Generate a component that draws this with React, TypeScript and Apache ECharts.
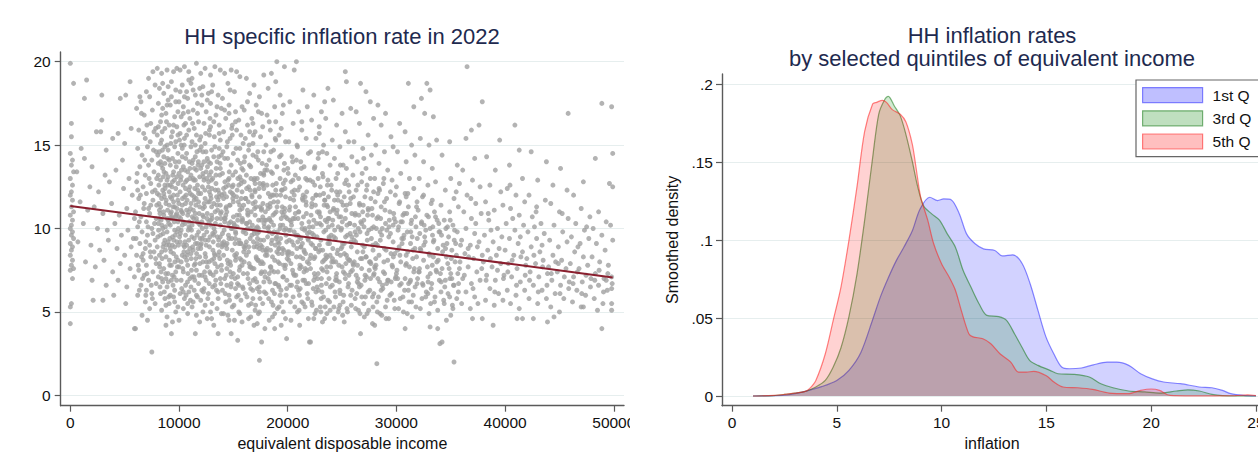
import React, { useEffect, useRef } from "react";
import * as echarts from "echarts";

const FONT = '"Liberation Sans", Arial, Helvetica, sans-serif';
const TITLE_COLOR = "#1e2a4f";

const leftTitle = "HH specific inflation rate in 2022";
const rightTitle1 = "HH inflation rates";
const rightTitle2 = "by selected quintiles of equivalent income";
const incomeAxisName = "equivalent disposable income";
const inflationAxisName = "inflation";
const densityAxisName = "Smoothed density";

const incomeTicks = [0, 10000, 20000, 30000, 40000, 50000];
const rateTicks = [0, 5, 10, 15, 20];
const inflationTicks = [0, 5, 10, 15, 20, 25];
const densityTicks = [0, 0.05, 0.1, 0.15, 0.2];

// fitted line (income, rate) at the data range ends
const fitLine: [number, number][] = [[0, 11.35], [49900, 7.07]];

// households: [income in thousands, inflation rate] (outer spread)
const households: [number, number][] = [
  [0.0,19.9],[0.3,18.7],[0.1,16.3],[0.1,15.5],[0.0,14.5],[0.2,14.1],[0.1,13.8],[0.3,13.4],[0.0,13.0],[0.2,12.6],[0.1,12.2],[0.0,12.0],[0.2,11.7],[0.1,11.3],[0.3,11.0],[0.0,10.8],[0.2,10.5],[0.1,10.2],[0.0,10.0],[0.2,9.8],[0.1,9.6],[0.3,9.4],[0.0,9.1],[0.2,8.9],[0.1,8.7],[0.0,8.4],[0.2,8.1],[0.1,7.8],[0.3,7.6],[0.0,7.5],[0.2,7.0],[0.1,5.5],[0.0,5.3],[0.0,4.3],
  [1.5,18.9],[1.3,17.8],[2.9,18.0],[5.5,18.8],[4.6,17.8],[5.1,18.0],[2.9,16.5],[2.4,15.8],[2.8,15.8],[1.0,14.8],[1.3,14.2],[3.3,14.7],[3.9,15.4],[4.4,15.7],[5.0,15.1],[5.6,16.0],[3.2,13.2],[0.6,13.4],[2.0,13.7],[4.2,13.5],[4.8,14.1],[5.4,13.0],[1.8,12.5],[2.6,12.2],[3.6,12.8],[4.9,12.4],[5.7,12.0],[0.9,11.6],[1.6,11.1],[2.2,11.3],[3.0,10.9],[3.8,11.5],[4.5,10.8],[5.2,11.2],[5.9,10.6],[1.2,10.3],[2.5,10.0],[3.4,9.9],[4.1,10.3],[4.7,9.6],[5.3,9.9],[5.8,9.4],[0.7,9.2],[1.9,9.0],[2.7,8.7],[3.5,9.3],[4.3,8.8],[5.0,8.4],[5.6,8.9],[1.4,8.0],[2.3,7.7],[3.1,8.1],[3.9,7.4],[4.6,7.9],[5.5,7.6],[2.0,6.9],[3.3,6.6],[4.4,6.9],[5.2,6.5],[5.9,7.1],[2.1,5.7],[3.0,5.7],[4.0,6.0],[5.1,5.5],[5.9,4.0],
  [6.1,17.2],[6.5,17.6],[7.0,18.2],[7.3,17.9],[7.6,19.4],[7.8,18.6],[6.8,16.8],[7.4,16.3],[6.3,15.9],[6.9,15.4],[7.7,15.8],[6.2,14.8],[6.6,14.4],[7.1,14.9],[7.5,14.1],[7.9,14.6],[6.4,13.7],[6.9,13.2],[7.2,13.8],[7.7,13.4],[6.1,12.8],[6.7,12.5],[7.0,12.1],[7.4,12.7],[7.8,12.3],[6.3,11.8],[6.8,11.5],[7.2,11.2],[7.6,11.7],[6.0,11.0],[6.5,10.7],[7.0,10.4],[7.3,10.9],[7.9,10.6],[6.2,10.1],[6.6,9.8],[7.1,9.6],[7.5,10.0],[7.8,9.3],[6.4,9.1],[6.9,8.8],[7.3,9.0],[7.7,8.6],[6.1,8.4],[6.7,8.1],[7.0,7.8],[7.4,8.3],[7.9,7.9],[6.3,7.5],[6.8,7.2],[7.2,6.9],[7.6,7.4],[6.5,6.6],[7.0,6.3],[7.5,6.1],[7.9,6.7],[6.2,6.0],[6.9,5.6],[7.3,5.2],[7.8,5.5],[6.6,4.8],[7.1,4.5],[7.5,2.6],[6.0,4.0],[6.4,17.9],[7.2,19.0],[6.7,8.5],[7.4,11.4],[6.2,12.3],[7.6,9.7],
  [8.0,19.6],[8.4,19.3],[8.9,19.5],[9.5,19.4],[9.8,19.6],[8.2,18.4],[8.6,18.1],[9.0,18.5],[9.3,17.9],[9.7,18.3],[8.1,17.5],[8.5,17.2],[8.8,16.9],[9.2,17.4],[9.6,16.7],[9.9,17.0],[8.3,16.4],[8.7,16.0],[9.1,16.2],[9.4,15.8],[9.8,16.1],[8.0,15.6],[8.4,15.3],[8.9,15.0],[9.3,15.5],[9.6,14.9],[8.2,14.6],[8.6,14.3],[9.0,14.7],[9.4,14.2],[9.9,14.5],[8.1,13.9],[8.5,13.6],[8.8,13.3],[9.2,13.8],[9.5,13.4],[9.8,13.1],[8.3,12.9],[8.7,12.6],[9.1,12.2],[9.4,12.8],[9.7,12.4],[8.0,12.1],[8.4,11.8],[8.8,11.5],[9.2,11.9],[9.6,11.3],[9.9,11.7],[8.2,11.1],[8.6,10.8],[9.0,10.5],[9.3,11.0],[9.7,10.7],[8.1,10.3],[8.5,10.0],[8.9,9.8],[9.2,10.2],[9.6,9.9],[9.9,10.4],[8.3,9.6],[8.7,9.3],[9.1,9.0],[9.4,9.5],[9.8,9.2],[8.0,8.9],[8.4,8.6],[8.8,8.3],[9.2,8.8],[9.5,8.5],[9.9,8.1],[8.2,7.9],[8.6,7.6],[9.0,7.3],[9.3,7.8],[9.7,7.4],[8.1,7.1],[8.5,6.8],[8.9,6.5],[9.3,6.9],[9.6,6.3],[8.3,6.1],[8.7,5.8],[9.1,5.5],[9.5,5.9],[9.9,5.3],[8.4,5.1],[8.9,4.7],[9.4,4.4],[9.3,3.7],[8.8,4.2],[9.7,5.0],[8.5,12.3],[9.0,13.1],[8.7,14.9],[9.5,12.0],[8.2,10.6],[9.1,11.4],[8.6,9.1],[9.8,10.9],[8.9,12.9],[9.4,10.6],[8.1,13.2],[9.6,8.9],[8.8,7.0],[9.2,6.0],[8.4,16.8],[9.7,15.2],[9.0,17.7],[8.3,14.0],[9.5,11.6],
  [10.1,19.5],[10.5,19.7],[10.9,19.4],[11.6,19.9],[11.2,19.0],[10.3,18.6],[10.7,18.2],[11.1,18.7],[11.5,18.0],[11.9,18.4],[10.0,17.6],[10.4,17.3],[10.8,17.8],[11.3,17.1],[11.7,17.5],[10.2,16.7],[10.6,16.3],[11.0,16.6],[11.4,16.0],[11.8,16.4],[10.1,15.7],[10.5,15.4],[10.9,15.9],[11.2,15.2],[11.6,15.6],[10.3,14.8],[10.7,14.5],[11.1,14.9],[11.5,14.3],[11.9,14.7],[10.0,14.0],[10.4,13.7],[10.8,13.4],[11.2,13.9],[11.6,13.5],[10.2,13.1],[10.6,12.8],[11.0,12.5],[11.3,13.0],[11.7,12.6],[10.1,12.2],[10.5,11.9],[10.9,12.3],[11.4,11.7],[11.8,12.1],[10.3,11.4],[10.7,11.1],[11.1,11.5],[11.5,10.9],[11.9,11.3],[10.0,10.7],[10.4,10.4],[10.8,10.8],[11.2,10.2],[11.6,10.6],[10.2,9.9],[10.6,9.6],[11.0,10.0],[11.4,9.4],[11.8,9.8],[10.1,9.2],[10.5,8.9],[10.9,9.3],[11.3,8.7],[11.7,9.1],[10.3,8.4],[10.7,8.1],[11.1,8.5],[11.5,7.9],[11.9,8.3],[10.0,7.7],[10.4,7.4],[10.8,7.8],[11.2,7.1],[11.6,7.5],[10.2,6.9],[10.6,6.6],[11.0,7.0],[11.4,6.3],[11.8,6.7],[10.1,6.1],[10.5,5.8],[10.9,6.2],[11.3,5.6],[11.7,5.9],[10.4,5.2],[10.8,4.9],[11.2,5.3],[11.6,4.8],[10.0,4.5],[11.5,3.7],[11.9,4.4],[10.6,12.4],[11.3,14.1],[10.9,11.0],[11.7,10.4],[10.2,15.0],[11.0,13.6],[10.7,9.0],[11.5,12.9],[10.4,16.9],[11.9,15.3],[10.8,8.6],[11.1,6.5],[10.3,10.2],[11.4,11.9],
  [12.0,19.3],[12.4,19.6],[12.9,19.2],[13.3,19.7],[13.8,19.5],[12.2,18.5],[12.7,18.1],[13.1,18.6],[13.6,18.0],[12.1,17.4],[12.5,17.0],[12.9,17.5],[13.4,16.8],[13.9,17.2],[12.3,16.3],[12.8,15.9],[13.2,16.4],[13.7,15.7],[12.0,15.5],[12.4,15.1],[12.8,15.6],[13.3,14.9],[13.8,15.3],[12.2,14.6],[12.6,14.2],[13.0,14.7],[13.5,14.0],[13.9,14.4],[12.1,13.8],[12.5,13.4],[12.9,13.9],[13.4,13.2],[13.8,13.6],[12.3,12.9],[12.7,12.5],[13.1,13.0],[13.6,12.3],[12.0,12.1],[12.4,11.8],[12.8,12.2],[13.2,11.5],[13.7,11.9],[12.2,11.2],[12.6,10.9],[13.0,11.3],[13.5,10.6],[13.9,11.0],[12.1,10.4],[12.5,10.1],[12.9,10.5],[13.3,9.8],[13.8,10.2],[12.3,9.6],[12.7,9.3],[13.1,9.7],[13.6,9.0],[12.0,8.8],[12.4,8.5],[12.8,8.9],[13.2,8.2],[13.7,8.6],[12.2,8.0],[12.6,7.7],[13.0,8.1],[13.4,7.4],[13.9,7.8],[12.1,7.2],[12.5,6.9],[12.9,7.3],[13.3,6.6],[13.8,7.0],[12.3,6.4],[12.7,6.1],[13.1,6.5],[13.6,5.8],[12.0,5.7],[12.4,5.4],[12.9,5.0],[13.5,5.2],[13.9,4.9],[12.6,4.6],[13.2,4.2],[13.6,3.7],[12.8,11.6],[13.4,12.7],[12.2,13.3],[13.0,10.8],[12.5,9.0],[13.7,14.8],[12.9,16.1],[13.3,8.4],[12.1,6.3],[13.8,9.5],[12.7,14.0],[13.5,11.4],
  [14.2,19.3],[14.8,19.5],[15.3,19.4],[15.6,19.1],[14.5,18.7],[15.1,18.2],[14.0,17.8],[14.6,17.4],[15.2,17.0],[15.8,17.3],[14.3,16.6],[14.9,16.2],[15.5,16.5],[14.1,15.8],[14.7,15.4],[15.3,15.9],[15.9,15.1],[14.4,14.9],[15.0,14.5],[15.6,14.8],[14.2,14.2],[14.8,13.8],[15.4,14.1],[15.9,13.5],[14.0,13.3],[14.6,13.0],[15.2,13.4],[15.7,12.7],[14.3,12.5],[14.9,12.1],[15.5,12.6],[14.1,11.8],[14.7,11.4],[15.3,11.9],[15.8,11.2],[14.4,11.0],[15.0,10.7],[15.6,11.1],[14.2,10.4],[14.8,10.0],[15.4,10.5],[15.9,9.8],[14.0,9.7],[14.6,9.4],[15.2,9.8],[15.7,9.1],[14.3,9.0],[14.9,8.7],[15.5,9.1],[14.1,8.4],[14.7,8.0],[15.3,8.5],[15.8,7.8],[14.4,7.6],[15.0,7.3],[15.6,7.7],[14.2,7.0],[14.8,6.7],[15.4,7.1],[15.9,6.4],[14.0,6.3],[14.6,6.0],[15.2,6.4],[15.7,5.7],[14.3,5.6],[14.9,5.3],[15.5,5.0],[14.5,4.8],[15.1,4.5],[14.1,4.9],[15.4,3.3],[14.8,3.7],[15.8,4.4],[14.5,12.9],[15.1,10.2],[14.9,15.6],[15.6,13.1],[14.3,10.8],[15.2,8.1],[14.7,7.4],[15.8,10.4],[14.1,12.4],[15.5,6.6],[14.6,16.9],[15.0,11.6],[14.4,8.8],
  [16.2,19.0],[16.9,18.6],[17.4,17.9],[17.8,19.2],[16.5,18.1],[17.1,17.4],[16.0,17.1],[16.7,16.6],[17.6,16.9],[16.3,16.2],[17.0,15.8],[17.7,16.1],[16.1,15.4],[16.8,15.1],[17.5,15.5],[16.4,14.7],[17.1,14.3],[17.8,14.6],[16.0,14.0],[16.6,13.7],[17.3,14.1],[17.9,13.5],[16.2,13.2],[16.9,12.9],[17.5,13.3],[16.4,12.5],[17.0,12.2],[17.7,12.6],[16.1,11.8],[16.8,11.5],[17.4,11.9],[16.3,11.1],[17.0,10.8],[17.6,11.2],[16.5,10.4],[17.2,10.1],[17.9,10.5],[16.0,9.9],[16.7,9.6],[17.3,10.0],[17.8,9.3],[16.2,9.2],[16.9,8.9],[17.5,9.3],[16.4,8.6],[17.1,8.3],[17.7,8.7],[16.0,8.0],[16.6,7.7],[17.3,8.1],[17.9,7.4],[16.3,7.3],[17.0,7.0],[17.6,7.4],[16.5,6.7],[17.2,6.4],[17.8,6.8],[16.1,6.1],[16.8,5.8],[17.4,6.2],[16.4,5.4],[17.0,5.1],[17.7,5.5],[16.6,4.7],[17.3,4.9],[17.4,2.1],[17.6,3.2],[16.9,4.2],[17.9,4.0],[16.7,12.0],[17.2,9.7],[16.3,10.0],[17.5,7.9],[16.8,14.4],[17.1,11.3],[16.2,8.4],[17.8,12.4],[16.5,15.8],[17.4,8.8],[16.9,7.6],[17.7,10.7],[16.0,12.8],[17.2,13.0],
  [18.5,19.3],[19.0,20.0],[19.7,19.7],[18.2,18.4],[19.3,18.0],[18.8,17.3],[19.6,17.4],[18.1,16.8],[18.9,16.4],[19.5,16.9],[18.4,15.9],[19.2,15.6],[19.8,15.2],[18.0,15.0],[18.7,14.7],[19.4,14.4],[18.3,14.1],[19.0,13.7],[19.7,13.9],[18.6,13.3],[19.3,13.0],[18.1,12.6],[18.9,12.3],[19.6,12.7],[18.4,11.9],[19.1,11.6],[19.8,11.9],[18.2,11.2],[18.8,10.9],[19.5,11.3],[18.0,10.5],[18.7,10.2],[19.4,10.6],[18.3,9.8],[19.0,9.5],[19.7,9.9],[18.5,9.1],[19.2,8.8],[19.9,9.2],[18.1,8.4],[18.8,8.1],[19.5,8.5],[18.4,7.7],[19.1,7.4],[19.8,7.8],[18.2,7.0],[18.9,6.7],[19.6,7.1],[18.6,6.3],[19.3,6.0],[18.0,6.1],[19.9,6.4],[18.5,5.6],[19.2,5.3],[18.8,4.9],[19.6,5.0],[18.8,4.0],[19.9,3.4],[18.3,4.5],[19.4,4.2],[18.7,12.0],[19.3,10.0],[18.1,13.5],[19.0,8.6],[18.5,10.4],[19.7,11.0],[18.3,7.3],[19.5,12.3],[18.9,15.3],[19.2,6.5],[18.6,8.3],[19.8,10.7],[18.4,11.5],[19.1,9.2],
  [20.6,19.5],[20.8,20.0],[21.4,18.3],[20.2,17.6],[21.0,17.0],[21.8,17.3],[20.5,16.3],[21.3,15.9],[20.1,15.2],[20.9,14.9],[21.7,15.4],[20.4,14.3],[21.2,14.0],[21.9,14.5],[20.0,13.6],[20.7,13.2],[21.5,13.7],[20.3,12.8],[21.1,12.5],[21.8,12.9],[20.6,12.0],[21.4,11.7],[20.2,11.3],[21.0,11.0],[21.7,11.4],[20.5,10.6],[21.3,10.3],[20.1,9.9],[20.9,9.6],[21.6,10.0],[20.4,9.2],[21.2,8.9],[21.9,9.3],[20.0,8.6],[20.8,8.3],[21.5,8.7],[20.3,7.9],[21.1,7.6],[21.8,8.0],[20.6,7.2],[21.4,6.9],[20.2,6.6],[21.0,6.3],[21.7,6.7],[20.5,5.9],[21.3,5.6],[20.9,5.0],[21.6,5.3],[20.3,4.5],[21.1,4.2],[22.0,3.2],[21.9,4.6],[20.7,10.9],[21.2,9.4],[20.4,12.2],[21.5,7.4],[20.8,14.1],[21.6,11.9],[20.1,8.1],[21.0,13.0],[20.6,9.8],[21.8,6.1],[20.2,10.5],[21.4,8.2],[20.9,6.8],[21.3,16.4],
  [22.4,18.0],[23.1,17.0],[23.7,18.4],[22.2,16.5],[22.9,16.1],[23.5,16.6],[22.6,15.4],[23.3,15.0],[22.1,14.6],[22.8,14.2],[23.6,14.5],[22.5,13.7],[23.2,13.3],[23.9,13.8],[22.3,12.8],[23.0,12.5],[23.7,12.9],[22.6,12.0],[23.4,11.7],[22.2,11.3],[22.9,11.0],[23.6,11.4],[22.4,10.5],[23.1,10.2],[23.8,10.6],[22.0,9.8],[22.7,9.5],[23.5,9.9],[22.3,9.0],[23.0,8.7],[23.7,9.1],[22.5,8.3],[23.2,8.0],[23.9,8.4],[22.1,7.6],[22.8,7.3],[23.6,7.7],[22.4,6.9],[23.1,6.6],[23.8,7.0],[22.6,6.2],[23.3,5.9],[22.2,5.6],[23.0,5.3],[23.7,5.7],[22.5,4.9],[23.4,4.6],[22.1,3.2],[23.9,5.1],[22.9,10.9],[23.3,12.1],[22.6,8.8],[23.8,9.5],[22.3,11.8],[23.5,8.2],[22.8,13.0],[23.1,7.0],[22.0,10.1],[23.6,10.4],[22.7,6.5],[23.9,11.0],[22.4,9.6],[23.2,14.6],[22.9,15.7],[23.4,17.6],
  [25.3,19.4],[25.4,18.8],[24.2,17.7],[25.0,16.9],[25.8,17.2],[24.5,16.2],[25.3,15.8],[24.1,15.3],[24.8,14.9],[25.6,15.2],[24.3,14.2],[25.1,13.8],[25.9,14.3],[24.6,13.3],[25.4,12.9],[24.0,12.6],[24.8,12.2],[25.6,12.6],[24.3,11.7],[25.1,11.4],[25.8,11.8],[24.5,10.9],[25.3,10.6],[24.1,10.2],[24.9,9.9],[25.7,10.3],[24.4,9.4],[25.2,9.1],[25.9,9.5],[24.6,8.7],[25.4,8.4],[24.2,8.0],[25.0,7.7],[25.7,8.1],[24.5,7.3],[25.3,7.0],[24.1,6.6],[24.8,6.3],[25.6,6.7],[24.4,5.9],[25.1,5.6],[25.8,6.0],[24.7,5.2],[25.5,5.0],[24.3,4.6],[25.2,4.4],[24.9,10.7],[25.5,9.6],[24.2,11.1],[25.8,7.4],[24.6,12.0],[25.0,8.9],[24.0,9.6],[25.4,13.6],[24.7,7.8],[25.9,10.9],[24.4,6.9],[25.2,11.9],[24.8,5.4],
  [26.7,18.7],[27.2,18.2],[27.6,17.6],[26.3,17.0],[27.9,16.6],[26.6,16.3],[27.4,15.6],[26.1,15.2],[26.9,14.8],[27.7,14.4],[26.4,14.0],[27.2,13.6],[26.0,13.2],[26.8,12.8],[27.6,13.0],[26.3,12.3],[27.1,11.9],[27.9,12.2],[26.6,11.5],[27.4,11.2],[26.2,10.8],[27.0,10.5],[27.8,10.8],[26.5,10.0],[27.3,9.7],[26.1,9.3],[26.9,9.0],[27.7,9.4],[26.4,8.6],[27.2,8.3],[26.0,7.9],[26.8,7.6],[27.6,8.0],[26.3,7.2],[27.1,6.9],[27.9,7.2],[26.6,6.5],[27.4,6.2],[26.2,5.8],[27.0,5.5],[27.8,5.9],[26.5,5.1],[27.3,4.9],[26.7,3.7],[27.8,4.3],[26.9,11.0],[27.5,7.5],[26.2,9.8],[27.3,12.6],[26.7,8.2],[27.9,10.1],[26.4,6.8],[27.0,14.2],[26.8,10.3],
  [28.2,1.9],[28.3,17.4],[29.0,16.9],[28.6,16.2],[29.5,15.5],[28.1,15.0],[28.9,14.6],[29.7,14.9],[28.4,13.9],[29.2,13.5],[28.0,13.0],[28.8,12.7],[29.6,12.9],[28.3,12.1],[29.1,11.8],[29.9,12.0],[28.6,11.3],[29.4,11.0],[28.2,10.6],[29.0,10.3],[29.8,10.6],[28.5,9.8],[29.3,9.5],[28.1,9.1],[28.9,8.8],[29.7,9.2],[28.4,8.4],[29.2,8.1],[28.0,7.7],[28.8,7.4],[29.6,7.8],[28.3,7.0],[29.1,6.7],[29.9,7.0],[28.6,6.3],[29.4,6.0],[28.2,5.6],[29.0,5.3],[29.8,5.7],[28.5,4.9],[29.3,4.6],[28.0,4.2],[28.7,10.0],[29.5,8.5],[28.9,11.6],[29.2,6.9],[28.4,12.4],[29.7,10.2],[28.1,8.2],
  [31.1,18.7],[30.3,16.3],[31.6,17.3],[30.8,15.8],[31.4,15.0],[30.1,14.6],[30.9,14.0],[31.7,14.4],[30.4,13.3],[31.2,13.0],[30.0,12.5],[30.8,12.1],[31.6,12.4],[30.3,11.6],[31.1,11.3],[31.9,11.6],[30.6,10.8],[31.4,10.5],[30.2,10.1],[31.0,9.8],[31.8,10.1],[30.5,9.4],[31.3,9.1],[30.1,8.7],[30.9,8.4],[31.7,8.8],[30.4,8.0],[31.2,7.7],[30.0,7.3],[30.8,7.0],[31.6,7.4],[30.3,6.6],[31.1,6.3],[31.9,6.7],[30.6,5.9],[31.4,5.6],[30.2,5.2],[31.0,4.9],[31.8,5.3],[30.8,4.0],[30.7,9.6],[31.5,8.2],[30.4,10.4],[31.3,6.9],[30.9,11.9],
  [32.8,18.7],[33.1,18.3],[32.3,17.8],[32.6,16.9],[33.4,16.7],[32.2,15.4],[33.0,15.0],[33.7,15.3],[32.5,14.0],[33.3,13.6],[32.1,13.0],[32.9,12.6],[33.6,12.8],[32.4,11.9],[33.2,11.5],[32.0,11.1],[32.8,10.8],[33.5,11.0],[32.3,10.3],[33.1,10.0],[33.9,10.3],[32.6,9.5],[33.4,9.2],[32.2,8.8],[33.0,8.5],[33.8,8.8],[32.5,8.1],[33.3,7.8],[32.1,7.4],[32.9,7.1],[33.7,7.4],[32.4,6.7],[33.2,6.4],[32.7,5.9],[33.5,5.6],[32.2,5.2],[33.0,4.9],[33.8,5.1],[33.1,4.1],[33.8,4.0],[32.7,9.9],[33.4,8.3],[32.9,6.1],[33.6,10.7],
  [34.9,15.2],[35.6,13.8],[34.2,14.4],[35.0,13.0],[35.8,12.7],[34.5,12.3],[35.3,11.8],[34.1,11.4],[34.9,11.0],[35.7,11.3],[34.4,10.5],[35.2,10.2],[34.0,9.8],[34.8,9.5],[35.6,9.8],[34.3,9.0],[35.1,8.7],[35.9,9.0],[34.6,8.3],[35.4,8.0],[34.2,7.6],[35.0,7.3],[35.8,7.6],[34.5,6.9],[35.3,6.6],[34.1,6.2],[34.9,5.9],[35.7,6.2],[34.4,5.5],[35.2,5.2],[35.0,4.8],[34.2,3.2],[34.0,3.1],[35.3,2.0],[34.6,4.5],[35.5,12.2],[34.7,10.1],[35.1,7.0],
  [36.5,19.7],[37.9,17.6],[37.6,16.2],[36.9,15.9],[36.4,15.4],[37.2,14.2],[36.1,13.5],[37.0,12.9],[37.7,12.5],[36.5,12.0],[37.3,11.5],[36.2,11.0],[36.9,10.6],[37.8,10.9],[36.4,10.0],[37.2,9.7],[36.0,9.3],[36.8,9.0],[37.6,9.2],[36.3,8.5],[37.1,8.2],[37.9,8.4],[36.6,7.7],[37.4,7.4],[36.1,7.0],[36.9,6.7],[37.7,6.9],[36.4,6.2],[37.2,5.9],[36.0,5.5],[36.8,5.2],[37.5,5.5],[37.0,4.6],[37.9,4.6],[36.6,8.8],[37.3,10.3],
  [39.5,15.3],[38.3,14.3],[39.1,13.5],[38.6,12.6],[39.6,12.2],[38.2,11.6],[39.0,11.1],[39.8,11.4],[38.5,10.5],[39.3,10.0],[38.1,9.6],[38.9,9.2],[39.7,9.5],[38.4,8.7],[39.2,8.4],[38.0,8.0],[38.8,7.7],[39.6,7.9],[38.3,7.2],[39.1,6.9],[39.9,7.2],[38.6,6.4],[39.4,6.1],[38.2,5.7],[39.0,5.4],[39.8,5.7],[38.9,4.2],[38.7,9.9],[39.3,7.5],
  [40.9,16.2],[41.3,14.7],[40.4,13.8],[41.6,13.0],[40.2,12.4],[41.0,12.0],[41.8,11.6],[40.5,11.2],[41.3,10.8],[40.1,10.3],[40.9,9.9],[41.7,10.2],[40.4,9.4],[41.2,9.1],[40.0,8.7],[40.8,8.4],[41.6,8.6],[40.3,7.9],[41.1,7.6],[41.9,7.8],[40.6,7.1],[41.4,6.8],[40.2,6.3],[41.0,6.0],[41.8,6.3],[40.5,5.5],[41.3,5.2],[41.1,4.6],[41.6,4.6],[40.7,10.6],[41.4,9.5],
  [43.8,14.0],[42.4,14.6],[43.0,12.9],[42.2,12.0],[42.9,11.3],[43.7,11.7],[42.5,10.7],[43.3,10.3],[42.1,9.8],[42.9,9.4],[43.6,9.7],[42.4,8.9],[43.2,8.6],[42.0,8.2],[42.8,7.9],[43.5,8.1],[42.3,7.4],[43.1,7.1],[43.9,7.3],[42.6,6.6],[43.4,6.3],[42.2,5.8],[43.0,5.5],[43.8,5.8],[42.6,4.6],[43.9,4.4],[42.7,10.1],[43.4,9.0],
  [45.1,13.6],[44.4,12.6],[45.7,12.3],[44.2,11.5],[45.0,11.0],[45.8,10.6],[44.5,10.2],[45.3,9.8],[44.1,9.3],[44.9,8.9],[45.7,9.2],[44.4,8.4],[45.2,8.1],[44.0,7.7],[44.8,7.4],[45.6,7.6],[44.3,6.9],[45.1,6.6],[45.9,6.8],[44.6,6.1],[45.4,5.8],[44.2,5.3],[45.0,5.0],[44.5,4.7],[45.8,16.9],[44.9,7.9],
  [47.2,12.8],[46.3,12.0],[47.0,11.2],[47.8,10.7],[46.5,10.3],[47.3,9.9],[46.1,9.5],[46.9,9.1],[47.7,9.4],[46.4,8.6],[47.2,8.3],[46.0,7.9],[46.8,7.6],[47.6,7.8],[46.3,7.1],[47.1,6.8],[47.9,7.0],[46.6,6.3],[47.4,6.0],[46.2,5.6],[47.0,5.3],[47.2,5.3],[46.7,8.9],[47.5,10.1],
  [48.9,17.5],[49.8,17.3],[49.9,14.5],[48.3,14.2],[49.6,12.7],[49.9,12.5],[48.6,11.0],[49.3,10.4],[48.1,10.0],[48.9,9.6],[49.7,10.2],[48.4,9.1],[49.2,8.7],[49.9,9.3],[48.0,8.3],[48.7,8.0],[49.5,7.8],[48.3,7.3],[49.1,7.0],[49.8,7.1],[48.6,6.6],[49.4,6.3],[49.8,6.4],[48.2,5.8],[49.0,5.5],[49.8,5.5],[48.5,5.1],[49.8,5.1],[48.9,4.0],[49.3,6.9],
];

// households in the dense core of the cloud: [income in thousands, inflation rate]
const householdsCore: [number, number][] = [
  [6.05,9.4],[6.35,10.4],[6.55,8.3],[6.75,11.2],[6.95,9.2],[7.15,10.1],[7.35,8.6],[7.55,12.2],[7.75,10.3],[7.95,11.4],[6.15,13.3],[6.45,12.0],[6.85,14.1],[7.25,13.0],[7.65,14.7],[6.25,7.8],[6.65,7.0],[7.05,7.3],[7.45,6.6],[7.85,8.2],[6.35,6.3],[6.95,6.0],[7.55,5.8],[7.05,16.2],[7.55,17.1],[6.75,15.7],[7.85,16.0],[7.35,15.2],[6.55,16.9],[7.95,13.0],
  [8.05,9.5],[8.25,10.9],[8.45,8.2],[8.65,11.9],[8.85,9.0],[9.05,10.3],[9.25,8.6],[9.45,11.3],[9.65,9.6],[9.85,12.0],[8.15,12.6],[8.35,7.4],[8.55,13.1],[8.75,8.7],[8.95,14.2],[9.15,7.8],[9.35,12.5],[9.55,7.1],[9.75,13.7],[9.95,9.0],[8.05,14.4],[8.25,6.5],[8.45,15.8],[8.65,6.2],[8.85,16.4],[9.05,5.9],[9.25,15.1],[9.45,6.6],[9.65,14.0],[9.85,7.7],[8.15,11.5],[8.35,10.5],[8.55,9.7],[8.75,10.1],[8.95,11.1],[9.15,9.4],[9.35,10.7],[9.55,10.4],[9.75,8.3],[9.95,10.0],[8.1,16.1],[8.5,18.7],[8.9,17.4],[9.3,18.8],[9.7,17.6],[8.3,15.1],[8.7,13.9],[9.1,14.1],[9.5,16.2],[9.9,15.6],[8.2,8.4],[8.6,12.1],[9.0,9.2],[9.4,7.2],[9.8,11.2],[8.4,7.0],[8.8,5.4],[9.2,12.6],[9.6,5.6],[10.0,13.3],
  [10.05,9.5],[10.25,11.0],[10.45,8.6],[10.65,12.0],[10.85,9.9],[11.05,11.2],[11.25,8.9],[11.45,12.4],[11.65,9.6],[11.85,10.9],[10.15,12.9],[10.35,7.6],[10.55,13.5],[10.75,8.4],[10.95,14.0],[11.15,7.5],[11.35,12.9],[11.55,8.2],[11.75,13.8],[11.95,9.4],[10.05,15.3],[10.25,6.4],[10.45,16.2],[10.65,6.0],[10.85,17.0],[11.05,5.7],[11.25,16.3],[11.45,6.9],[11.65,14.6],[11.85,7.2],[10.15,10.6],[10.35,10.9],[10.55,9.2],[10.75,11.7],[10.95,10.4],[11.15,9.9],[11.35,10.6],[11.55,11.4],[11.75,8.8],[11.95,10.2],[10.1,18.2],[10.5,17.9],[10.9,18.9],[11.3,18.3],[11.7,16.9],[10.3,14.3],[10.7,15.6],[11.1,13.2],[11.5,15.0],[11.9,13.1],[10.2,8.0],[10.6,11.5],[11.0,8.8],[11.4,7.8],[11.8,11.6],[10.4,6.2],[10.8,5.5],[11.2,12.0],[11.6,6.0],[12.0,13.6],
  [12.05,9.1],[12.25,10.7],[12.45,8.3],[12.65,11.6],[12.85,9.5],[13.05,10.6],[13.25,8.5],[13.45,11.9],[13.65,9.3],[13.85,10.6],[12.15,12.5],[12.35,7.4],[12.55,13.0],[12.75,8.0],[12.95,13.4],[13.15,7.2],[13.35,12.3],[13.55,7.7],[13.75,13.2],[13.95,8.9],[12.05,14.9],[12.25,6.2],[12.45,15.7],[12.65,5.8],[12.85,16.6],[13.05,5.5],[13.25,15.5],[13.45,6.3],[13.65,14.3],[13.85,6.7],[12.15,10.0],[12.35,11.3],[12.55,9.8],[12.75,10.4],[12.95,11.8],[13.15,9.2],[13.35,10.3],[13.55,11.1],[13.75,8.2],[13.95,12.0],[12.1,18.0],[12.6,17.7],[13.0,18.2],[13.5,17.3],[12.3,14.0],[12.8,13.2],[13.2,14.3],[13.7,16.2],[12.4,7.1],[12.9,12.0],[13.3,7.9],[13.8,11.4],[12.2,5.0],[13.0,4.6],[13.6,6.2],
  [14.05,9.0],[14.25,10.6],[14.45,8.1],[14.65,11.4],[14.85,9.4],[15.05,10.3],[15.25,8.3],[15.45,11.6],[15.65,9.1],[15.85,10.5],[14.15,12.1],[14.35,7.2],[14.55,12.6],[14.75,7.8],[14.95,13.2],[15.15,7.0],[15.35,12.3],[15.55,7.5],[15.75,12.9],[15.95,8.6],[14.05,14.6],[14.25,6.1],[14.45,15.2],[14.65,5.7],[14.85,16.0],[15.05,5.4],[15.25,14.8],[15.45,6.0],[15.65,13.9],[15.85,6.5],[14.15,9.9],[14.35,11.3],[14.55,9.6],[14.75,10.4],[14.95,11.8],[15.15,9.1],[15.35,10.1],[15.55,10.8],[15.75,8.1],[15.95,11.4],[14.2,17.1],[14.7,18.3],[15.2,16.4],[15.7,15.6],[14.4,6.6],[14.9,12.5],[15.3,5.9],[15.8,12.2],[14.6,4.5],[15.6,4.9],
  [16.05,8.8],[16.25,10.3],[16.45,7.9],[16.65,11.0],[16.85,9.2],[17.05,10.0],[17.25,8.1],[17.45,11.3],[17.65,8.9],[17.85,10.1],[16.15,11.8],[16.35,7.0],[16.55,12.3],[16.75,7.6],[16.95,13.0],[17.15,6.8],[17.35,12.4],[17.55,7.3],[17.75,12.7],[17.95,8.4],[16.05,14.3],[16.25,5.9],[16.45,15.0],[16.65,5.5],[16.85,15.6],[17.05,5.4],[17.25,14.6],[17.45,5.8],[17.65,13.9],[17.85,6.2],[16.15,9.7],[16.35,10.8],[16.55,9.4],[16.75,10.2],[16.95,11.2],[17.15,8.9],[17.35,9.8],[17.55,10.5],[17.75,7.9],[17.95,11.0],[16.3,17.6],[16.8,16.3],[17.3,17.0],[16.6,6.4],[17.0,12.7],[17.4,5.0],[17.8,13.2],[16.4,4.6],[17.2,4.3],[16.9,9.9],
  [18.05,8.6],[18.25,10.1],[18.45,7.7],[18.65,10.8],[18.85,9.0],[19.05,9.8],[19.25,7.9],[19.45,11.0],[19.65,8.7],[19.85,9.6],[18.15,11.4],[18.35,6.8],[18.55,12.0],[18.75,7.4],[18.95,12.7],[19.15,6.6],[19.35,12.0],[19.55,7.1],[19.75,12.4],[19.95,8.2],[18.05,13.8],[18.25,5.8],[18.45,14.6],[18.65,5.4],[18.85,15.4],[19.05,5.2],[19.25,14.3],[19.45,5.6],[19.65,13.5],[19.85,6.0],[18.15,9.5],[18.35,10.5],[18.55,9.3],[18.75,9.8],[18.95,11.0],[19.15,8.5],[19.35,9.4],[19.55,10.2],[19.75,7.6],[19.95,10.6],[18.3,16.4],[18.9,18.8],[19.4,16.0],[18.6,4.7],[19.8,4.6],
  [20.05,8.4],[20.25,9.9],[20.45,7.5],[20.65,10.6],[20.85,8.8],[21.05,9.5],[21.25,7.7],[21.45,10.7],[21.65,8.5],[21.85,9.4],[20.15,11.1],[20.35,6.6],[20.55,11.7],[20.75,7.2],[20.95,12.3],[21.15,6.4],[21.35,11.8],[21.55,6.9],[21.75,12.2],[21.95,7.9],[20.05,13.3],[20.25,5.6],[20.45,14.0],[20.65,5.3],[20.85,15.0],[21.05,5.1],[21.25,13.6],[21.45,5.5],[21.65,13.0],[21.85,5.8],[20.15,9.3],[20.35,10.2],[20.55,9.0],[20.75,9.6],[20.95,10.6],[21.15,8.3],[21.35,9.1],[21.55,9.9],[21.75,7.5],[21.95,10.4],
  [22.05,8.2],[22.25,9.7],[22.45,7.3],[22.65,10.3],[22.85,8.6],[23.05,9.3],[23.25,7.5],[23.45,10.5],[23.65,8.3],[23.85,9.1],[22.15,10.8],[22.35,6.4],[22.55,11.4],[22.75,7.0],[22.95,12.0],[23.15,6.2],[23.35,11.4],[23.55,6.7],[23.75,11.9],[23.95,7.7],[22.05,12.9],[22.25,5.4],[22.45,13.6],[22.65,5.1],[22.85,14.5],[23.05,5.0],[23.25,13.1],[23.45,5.3],[23.65,12.6],[23.85,5.6],[22.15,9.1],[22.55,8.8],[22.95,10.3],[23.35,8.1],[23.75,10.1],[22.4,4.6],[23.2,4.4],[23.6,4.9],
  [24.05,8.0],[24.25,9.5],[24.45,7.1],[24.65,10.1],[24.85,8.4],[25.05,9.1],[25.25,7.3],[25.45,10.2],[25.65,8.1],[25.85,8.9],[24.15,10.5],[24.35,6.2],[24.55,11.1],[24.75,6.8],[24.95,11.6],[25.15,6.0],[25.35,11.1],[25.55,6.5],[25.75,11.5],[25.95,7.5],[24.05,12.3],[24.25,5.3],[24.45,13.0],[24.65,5.0],[24.85,13.8],[25.05,4.8],[25.25,12.7],[25.45,5.2],[25.65,12.2],[25.85,5.4],[24.15,8.8],[24.55,8.5],[24.95,10.0],[25.35,7.9],[25.75,9.7],
  [26.05,7.8],[26.25,9.2],[26.45,7.0],[26.65,9.8],[26.85,8.2],[27.05,8.9],[27.25,7.1],[27.45,9.9],[27.65,7.9],[27.85,8.7],[26.15,10.2],[26.35,6.1],[26.55,10.8],[26.75,6.6],[26.95,11.4],[27.15,5.9],[27.35,10.8],[27.55,6.3],[27.75,11.2],[27.95,7.3],[26.05,11.9],[26.25,5.2],[26.45,12.6],[26.65,4.9],[26.85,13.3],[27.05,4.7],[27.25,12.3],[27.45,5.1],[27.65,11.8],[27.85,5.3],
  [28.05,7.6],[28.25,9.0],[28.45,6.8],[28.65,9.6],[28.85,8.0],[29.05,8.7],[29.25,6.9],[29.45,9.7],[29.65,7.7],[29.85,8.5],[28.15,10.0],[28.35,5.9],[28.55,10.6],[28.75,6.4],[28.95,11.1],[29.15,5.7],[29.35,10.5],[29.55,6.1],[29.75,10.9],[29.95,7.1],[28.05,11.6],[28.25,5.0],[28.45,12.3],[28.65,4.8],[28.85,13.0],[29.05,4.6],[29.45,12.2],[29.85,5.2],
  [30.05,7.5],[30.25,8.9],[30.45,6.7],[30.65,9.4],[30.85,7.8],[31.05,8.6],[31.25,6.8],[31.45,9.5],[31.65,7.6],[31.85,8.3],[30.15,9.9],[30.35,5.8],[30.55,10.4],[30.75,6.3],[30.95,10.9],[31.15,5.6],[31.35,10.3],[31.55,6.0],[31.75,10.7],[31.95,7.0],[30.25,11.5],[30.65,5.0],[31.05,12.1],[31.45,4.7],[31.85,11.3],
  [32.05,7.4],[32.25,8.7],[32.45,6.6],[32.65,9.2],[32.85,7.7],[33.05,8.4],[33.25,6.7],[33.45,9.3],[33.65,7.5],[33.85,8.1],[32.15,9.7],[32.35,5.8],[32.55,10.2],[32.75,6.2],[32.95,10.7],[33.15,5.5],[33.35,10.1],[33.55,5.9],[33.75,10.5],[33.95,6.9],[32.5,12.0],[33.3,11.7],
  [34.05,7.3],[34.25,8.6],[34.45,6.5],[34.65,9.1],[34.85,7.6],[35.05,8.2],[35.25,6.6],[35.45,9.1],[35.65,7.3],[35.85,8.0],[34.15,9.6],[34.35,5.7],[34.55,10.0],[34.75,6.1],[34.95,10.5],[35.15,5.4],[35.35,9.9],[35.55,5.8],
  [36.25,7.2],[36.65,8.3],[37.05,6.4],[37.45,8.9],[37.85,7.6],[38.25,6.9],[38.65,8.2],[39.05,6.2],[39.45,8.8],[39.85,7.0],[40.25,7.4],[40.65,8.1],[41.05,6.6],[41.45,8.3],[41.85,7.2],[42.25,6.9],[42.65,8.4],[43.05,6.2],[43.45,7.7],[43.85,6.6],[44.25,7.3],[44.65,8.0],[45.05,6.1],[45.45,7.1],[45.85,6.4],[46.25,6.7],[46.65,7.4],[47.05,6.1],[47.45,7.2],[47.85,6.5],[48.25,6.9],[48.65,7.5],[49.05,6.2],[49.45,7.3],[49.85,6.7],[36.85,11.8],[38.45,10.9],[40.45,12.6],[42.85,11.0],[45.25,10.9],
];

// further households in the densest part of the cloud: [income in thousands, inflation rate]
const householdsDense: [number, number][] = [
  [8.12,9.9],[8.32,11.3],[8.52,8.9],[8.72,12.4],[8.92,10.6],[9.12,8.1],[9.32,11.8],[9.52,9.3],[9.72,10.8],[9.92,12.7],[8.22,7.7],[8.42,10.2],[8.62,13.4],[8.82,11.7],[9.02,6.8],[9.22,10.9],[9.42,13.2],[9.62,8.0],[9.82,9.8],[8.18,12.0],[8.38,13.8],[8.58,11.0],[8.78,7.3],[8.98,12.6],[9.18,10.6],[9.38,9.0],[9.58,12.9],[9.78,6.9],[9.98,11.5],[8.48,14.7],
  [10.12,9.7],[10.32,11.8],[10.52,8.3],[10.72,12.9],[10.92,10.1],[11.12,8.2],[11.32,11.1],[11.52,9.1],[11.72,12.3],[11.92,7.9],[10.22,13.5],[10.42,9.0],[10.62,14.2],[10.82,7.3],[11.02,12.1],[11.22,10.7],[11.42,13.6],[11.62,8.5],[11.82,10.3],[10.18,11.1],[10.38,12.6],[10.58,10.3],[10.78,6.8],[10.98,13.0],[11.18,9.5],[11.38,7.1],[11.58,11.8],[11.78,14.0],[11.98,9.0],[10.48,15.0],
  [12.12,9.4],[12.32,11.5],[12.52,8.0],[12.72,12.8],[12.92,10.2],[13.12,8.7],[13.32,11.0],[13.52,9.5],[13.72,12.1],[13.92,7.5],[12.22,13.1],[12.42,9.3],[12.62,13.7],[12.82,7.4],[13.02,12.4],[13.22,10.0],[13.42,13.6],[13.62,8.4],[13.82,10.9],[12.18,10.8],[12.38,12.3],[12.58,10.6],[12.78,6.7],[12.98,12.9],[13.18,9.6],[13.38,6.9],[13.58,11.7],[13.78,13.9],[13.98,9.1],[12.48,14.6],
  [14.12,9.2],[14.32,11.2],[14.52,7.9],[14.72,12.2],[14.92,10.0],[15.12,8.4],[15.32,10.8],[15.52,9.3],[15.72,11.8],[15.92,7.3],[14.22,12.8],[14.42,9.1],[14.62,13.4],[14.82,7.1],[15.02,12.0],[15.22,9.7],[15.42,13.0],[15.62,8.2],[15.82,10.6],[14.18,10.6],[14.38,11.9],[14.58,10.3],[14.78,6.5],[14.98,12.6],[15.18,9.4],[15.38,6.7],[15.58,11.4],[15.78,13.6],[15.98,8.9],[14.48,14.2],
  [16.12,9.0],[16.32,10.9],[16.52,7.7],[16.72,11.9],[16.92,9.7],[17.12,8.2],[17.32,10.5],[17.52,9.0],[17.72,11.5],[17.92,7.1],[16.22,12.4],[16.42,8.9],[16.62,13.0],[16.82,6.9],[17.02,11.6],[17.22,9.4],[17.42,12.7],[17.62,8.0],[17.82,10.3],[16.18,10.3],[16.38,11.6],[16.58,10.0],[16.78,6.3],[16.98,12.3],[17.18,9.1],[17.38,6.5],[17.58,11.1],[17.78,13.3],[17.98,8.7],[16.48,13.8],
  [18.12,8.8],[18.32,10.6],[18.52,7.5],[18.72,11.6],[18.92,9.4],[19.12,8.0],[19.32,10.2],[19.52,8.8],[19.72,11.2],[19.92,6.9],[18.22,12.1],[18.42,8.7],[18.62,12.6],[18.82,6.7],[19.02,11.3],[19.22,9.1],[19.42,12.3],[19.62,7.8],[19.82,10.0],[18.18,10.0],[18.38,11.3],[18.58,9.7],[18.78,6.1],[18.98,12.0],[19.18,8.8],[19.38,6.3],[19.58,10.8],[19.78,12.9],[19.98,8.5],[18.48,13.4],
  [20.12,8.6],[20.32,10.4],[20.52,7.3],[20.72,11.3],[20.92,9.2],[21.12,7.8],[21.32,10.0],[21.52,8.6],[21.72,10.9],[21.92,6.7],[20.22,11.8],[20.42,8.5],[20.62,12.3],[20.82,6.5],[21.02,11.0],[21.22,8.9],[21.42,12.0],[21.62,7.6],[21.82,9.7],[20.48,12.9],[21.08,6.0],[21.68,11.6],
  [22.12,8.4],[22.32,10.1],[22.52,7.1],[22.72,11.0],[22.92,9.0],[23.12,7.6],[23.32,9.8],[23.52,8.4],[23.72,10.6],[23.92,6.5],[22.22,11.5],[22.42,8.2],[22.62,12.0],[22.82,6.3],[23.02,10.7],[23.22,8.7],[23.42,11.7],[23.62,7.4],[23.82,9.4],[22.48,12.6],[23.08,5.8],[23.68,11.3],
  [24.12,8.2],[24.32,9.9],[24.52,6.9],[24.72,10.7],[24.92,8.8],[25.12,7.4],[25.32,9.5],[25.52,8.2],[25.72,10.3],[25.92,6.3],[24.22,11.2],[24.42,8.0],[24.62,11.7],[24.82,6.1],[25.02,10.4],[25.22,8.5],[25.42,11.4],[25.62,7.2],[25.82,9.2],[24.48,12.2],
  [26.12,8.0],[26.32,9.6],[26.52,6.7],[26.72,10.4],[26.92,8.6],[27.12,7.2],[27.32,9.3],[27.52,8.0],[27.72,10.0],[27.92,6.1],[26.22,10.9],[26.42,7.8],[26.62,11.4],[26.82,5.9],[27.02,10.1],[27.22,8.3],[27.42,11.1],[27.62,7.0],[27.82,9.0],
  [28.12,7.8],[28.52,9.3],[28.92,7.3],[29.32,10.1],[29.72,8.3],[30.12,7.0],[30.52,9.1],[30.92,7.9],[31.32,9.8],[31.72,6.5],[28.32,10.7],[28.72,6.6],[29.12,9.9],[29.52,6.8],[29.92,10.4],[30.32,8.4],[30.72,10.9],[31.12,6.7],[31.52,8.7],[31.92,9.4],
  [32.12,7.6],[32.52,9.0],[32.92,6.8],[33.32,9.6],[33.72,8.0],[34.12,6.8],[34.52,8.8],[34.92,7.0],[35.32,9.3],[35.72,6.7],[32.32,10.4],[33.12,7.3],[33.92,9.8],[34.72,7.9],[35.52,8.4],
];

// smoothed densities: [inflation, density]
const seriesNames = ["1st Q", "3rd Q", "5th Q"];
const q1Density: [number, number][] = [
  [1.0,0],[2.0,0.0002],[2.5,0.0005],[3.0,0.0015],[3.5,0.003],[4.27,0.006],[5.0,0.010],[5.58,0.0165],[6.15,0.028],[6.71,0.049],[7.09,0.064],[7.46,0.076],[7.84,0.087],[8.2,0.0956],[8.6,0.106],[8.97,0.120],[9.44,0.1277],[9.81,0.1256],[10.1,0.1266],[10.47,0.126],[10.85,0.117],[11.2,0.104],[11.6,0.0978],[12.0,0.0945],[12.54,0.0935],[12.9,0.090],[13.4,0.0907],[13.85,0.085],[14.23,0.072],[14.6,0.055],[14.98,0.038],[15.36,0.027],[15.73,0.0186],[16.1,0.0175],[16.67,0.018],[17.24,0.020],[17.9,0.0218],[18.36,0.0218],[18.93,0.0197],[19.5,0.0143],[20.06,0.011],[20.6,0.009],[21.4,0.0079],[22.3,0.0058],[22.9,0.0053],[23.4,0.0036],[23.8,0.0015],[24.4,0.0004],[25.0,0.0001],
];
const q3Density: [number, number][] = [
  [1.0,0],[2.0,0.0003],[2.5,0.001],[3.0,0.0018],[3.5,0.003],[4.0,0.0058],[4.45,0.010],[4.83,0.0186],[5.2,0.031],[5.58,0.051],[5.96,0.078],[6.33,0.113],[6.71,0.153],[7.0,0.181],[7.27,0.190],[7.46,0.1925],[7.74,0.1865],[8.03,0.180],[8.3,0.168],[8.6,0.151],[8.87,0.134],[9.15,0.122],[9.53,0.117],[9.9,0.113],[10.28,0.104],[10.66,0.0956],[11.03,0.0806],[11.4,0.070],[11.8,0.059],[12.16,0.0518],[12.73,0.051],[13.1,0.0486],[13.48,0.040],[13.85,0.031],[14.2,0.0229],[14.6,0.0197],[15.17,0.0165],[15.55,0.0143],[16.3,0.0139],[17.05,0.0122],[17.6,0.0079],[18.18,0.0053],[18.93,0.0032],[19.7,0.0026],[20.4,0.0019],[21.2,0.0032],[21.75,0.004],[22.3,0.0032],[22.9,0.001],[23.4,0.0002],[25.0,0],
];
const q5Density: [number, number][] = [
  [1.0,0],[2.0,0.0004],[2.5,0.001],[3.0,0.0018],[3.5,0.003],[3.7,0.0047],[4.0,0.010],[4.45,0.027],[4.83,0.0486],[5.2,0.070],[5.58,0.100],[5.96,0.134],[6.33,0.170],[6.71,0.1876],[6.9,0.1887],[7.18,0.190],[7.37,0.1887],[7.65,0.184],[8.03,0.181],[8.3,0.176],[8.6,0.162],[8.78,0.147],[9.0,0.128],[9.34,0.113],[9.62,0.098],[10.0,0.085],[10.38,0.076],[10.66,0.068],[10.94,0.055],[11.3,0.040],[11.5,0.038],[11.97,0.0368],[12.35,0.0336],[12.8,0.027],[13.3,0.0218],[13.67,0.0154],[14.04,0.0154],[14.4,0.0158],[15.0,0.013],[15.36,0.009],[15.8,0.0058],[16.5,0.0053],[17.2,0.0043],[18.0,0.0019],[18.9,0.0015],[19.5,0.0036],[20.0,0.0045],[20.4,0.0036],[20.9,0.0004],[22.0,0.0001],[24.0,0.0002],[24.6,0.0008],[25.0,0.0002],
];
const densities = [q1Density, q3Density, q5Density];
const fillColors = ["rgba(0,0,255,0.25)", "rgba(0,128,0,0.25)", "rgba(255,0,0,0.25)"];
const lineColors = ["rgba(40,40,255,0.55)", "rgba(20,120,20,0.55)", "rgba(255,30,30,0.55)"];

const AXIS_COLOR = "#5a5a5a";
const GRID_COLOR = "#e6eeee";

function valueAxis(ticks: number[], fmt: (v: number) => string, opts: any) {
  return {
    type: "value",
    min: opts.min,
    max: opts.max,
    axisLine: { show: true, onZero: false, lineStyle: { color: AXIS_COLOR, width: 1.4 } },
    axisTick: { show: true, length: 6, customValues: ticks, lineStyle: { color: AXIS_COLOR, width: 1.2 } },
    axisLabel: {
      customValues: ticks,
      formatter: fmt,
      color: "#111",
      fontSize: 15.5,
      fontFamily: FONT,
      margin: opts.margin,
      hideOverlap: false,
    },
    splitLine: { show: !!opts.grid, lineStyle: { color: GRID_COLOR, width: 1 } },
    name: opts.name,
    nameLocation: "middle",
    nameGap: opts.nameGap,
    nameRotate: opts.nameRotate,
    nameTextStyle: { color: "#111", fontSize: 16, fontFamily: FONT },
  };
}

const plainFmt = (v: number) => String(v);
const densityFmt = (v: number) => (v === 0 ? "0" : String(v).replace(/^0/, ""));

function titleText(text: string, x: number, y: number) {
  return {
    type: "text",
    x,
    y,
    style: {
      text,
      fill: TITLE_COLOR,
      font: `22px ${FONT}`,
      lineHeight: 22,
      textAlign: "center",
      textVerticalAlign: "middle",
    },
  };
}

function leftOption(): any {
  return {
    animation: false,
    backgroundColor: "#ffffff",
    grid: { left: 60.7, top: 52, width: 563.3, height: 353.7, containLabel: false, outerBoundsMode: "none" },
    graphic: [titleText(leftTitle, 342, 36)],
    xAxis: valueAxis(incomeTicks, plainFmt, { min: -883, max: 50938, margin: 9, name: incomeAxisName, nameGap: 28 }),
    yAxis: valueAxis(rateTicks, plainFmt, { min: -0.62, max: 20.58, margin: 10, grid: true }),
    series: [
      {
        type: "scatter",
        data: households.concat(householdsCore, householdsDense).map(([k, r]) => [k * 1000, r]),
        symbolSize: 5,
        itemStyle: { color: "#a0a0a0" },
        silent: true,
        z: 2,
      },
      {
        type: "line",
        data: fitLine,
        symbol: "none",
        lineStyle: { color: "#8a1f2e", width: 2 },
        silent: true,
        z: 3,
      },
    ],
  };
}

function rightOption(): any {
  return {
    animation: false,
    backgroundColor: "#ffffff",
    grid: { left: 89, top: 74, width: 540, height: 331.7, containLabel: false, outerBoundsMode: "none" },
    graphic: [titleText(rightTitle1, 359, 35), titleText(rightTitle2, 359, 58)],
    legend: {
      orient: "vertical",
      left: 503,
      top: 80,
      icon: "rect",
      itemWidth: 60,
      itemHeight: 15,
      itemGap: 7,
      padding: [7, 12, 7, 6],
      borderColor: "#666",
      borderWidth: 1.2,
      backgroundColor: "#fff",
      textStyle: { color: "#111", fontSize: 15.5, fontFamily: FONT, padding: [0, 0, 0, 5], lineHeight: 15 },
      data: seriesNames.map((n, i) => ({
        name: n,
        itemStyle: { color: fillColors[i], borderColor: lineColors[i], borderWidth: 1.2 },
      })),
    },
    xAxis: valueAxis(inflationTicks, plainFmt, { min: -0.477, max: 25.29, margin: 9, name: inflationAxisName, nameGap: 28 }),
    yAxis: valueAxis(densityTicks, densityFmt, { min: -0.00623, max: 0.2069, margin: 9, grid: true, name: densityAxisName, nameGap: 41, nameRotate: 90 }),
    series: densities.map((d, i) => ({
      name: seriesNames[i],
      type: "line",
      data: d,
      smooth: 0.3,
      symbol: "none",
      lineStyle: { color: lineColors[i], width: 1.2 },
      itemStyle: { color: lineColors[i] },
      areaStyle: { color: fillColors[i], origin: 0 },
      silent: true,
      z: 2 + i,
    })),
  };
}

export default function App() {
  const leftRef = useRef<HTMLDivElement>(null);
  const rightRef = useRef<HTMLDivElement>(null);
  useEffect(() => {
    const l = echarts.init(leftRef.current as HTMLDivElement, undefined, { renderer: "svg" });
    const r = echarts.init(rightRef.current as HTMLDivElement, undefined, { renderer: "svg" });
    l.setOption(leftOption());
    r.setOption(rightOption());
    return () => {
      l.dispose();
      r.dispose();
    };
  }, []);
  return (
    <div style={{ position: "absolute", left: 0, top: 0, width: 1258, height: 462, background: "#fff", overflow: "hidden" }}>
      <div ref={leftRef} style={{ position: "absolute", left: 0, top: 0, width: 630, height: 462, overflow: "hidden" }} />
      <div ref={rightRef} style={{ position: "absolute", left: 633, top: 0, width: 625, height: 462, overflow: "hidden" }} />
    </div>
  );
}
